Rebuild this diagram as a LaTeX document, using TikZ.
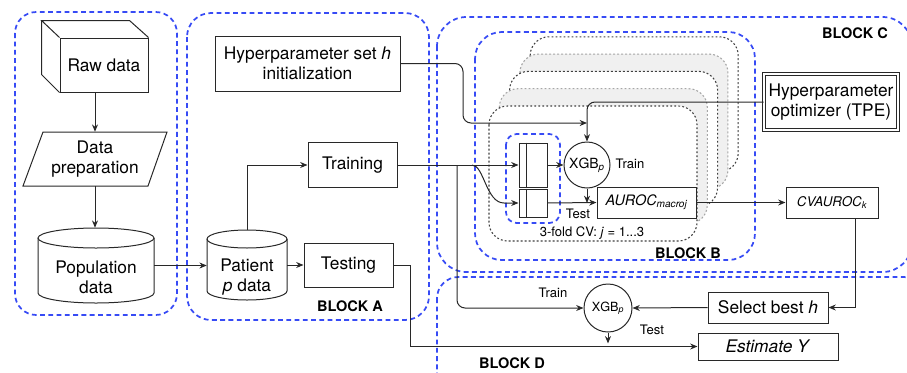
\documentclass[tikz,border=0pt]{standalone}
\usepackage{fontspec}
\setmainfont{TeX Gyre Heros}
\usetikzlibrary{arrows.meta}
\definecolor{blueD}{RGB}{55,75,245}
\definecolor{lineC}{RGB}{40,40,40}
\definecolor{cardG}{RGB}{240,240,240}
\newcommand\fmain{\fontsize{13}{15}\selectfont}
\newcommand\fsmall{\fontsize{9.8}{11}\selectfont}
\newcommand\fblk{\fontsize{10.9}{12}\selectfont\bfseries}
\newcommand\fxb{\fontsize{10.5}{12}\selectfont}
\newcommand\fxd{\fontsize{9.5}{11}\selectfont}
\newcommand\fau{\fontsize{10.8}{12}\selectfont}
\newcommand\fcv{\fontsize{10}{12}\selectfont}
\begin{document}
\begin{tikzpicture}[x=0.75pt,y=-0.75pt,
  blk/.style={draw=blueD, line width=1.3pt, dash pattern=on 3.6pt off 2.6pt, rounded corners=#1},
  box/.style={draw=lineC, line width=0.75pt, fill=white, inner sep=1pt, align=center, font=\fmain},
  wh/.style 2 args={minimum width=#1*0.75pt, minimum height=#2*0.75pt},
  arr/.style={draw=lineC, line width=0.75pt, -{Stealth[length=5.5pt,width=4.5pt]}},
  ln/.style={draw=lineC, line width=0.75pt},
  lbl/.style={font=\fsmall, inner sep=0pt},
  blab/.style={font=\fblk, inner sep=0pt},
  txt/.style={font=\fmain, align=center, inner sep=0pt},
  cardD/.style={draw=black!75, line width=0.8pt, dash pattern=on 1.4pt off 1.6pt, rounded corners=14pt, fill=white},
  cardL/.style={draw=gray!70, line width=0.8pt, dash pattern=on 1.4pt off 1.6pt, rounded corners=14pt, fill=cardG},
  xgb/.style={circle, draw=lineC, line width=0.75pt, fill=white, inner sep=0pt},
]
\useasboundingbox (0,0) rectangle (907,372);

% ---- blocks
\draw[blk=16pt] (15,12) rectangle (177,315);
\draw[blk=18pt] (187,13) rectangle (429,320);
\draw[blk=22pt] (437,17) rectangle (912,272);
\draw[blk=20pt] (475,32) rectangle (755,260);
\draw[blk=16pt] (437,277) rectangle (925,395);

% ---- stacked CV cards
\draw[cardD] (530.2,36.8) rectangle ++(208,135);
\draw[cardL] (519.9,54.1) rectangle ++(208,135);
\draw[cardD] (509.6,71.4) rectangle ++(208,135);
\draw[cardL] (499.3,88.7) rectangle ++(208,135);
\draw[cardD] (489,106) rectangle ++(208,135);

% ---- left column
\node[box, wh={88}{54}] (rawf) at (104,65) {Raw data};
\draw[ln] (rawf.north west) -- ++(-18,-17) -- ++(88,0) -- (rawf.north east);
\draw[ln] (rawf.north west) ++(-18,-17) -- ++(0,54) -- (rawf.south west);

\node[txt, wh={100}{54}] (prep) at (95,159) {Data\\preparation};
\draw[ln] ([shift={(-52,-27)}]prep.center) -- ([shift={(72,-27)}]prep.center) -- ([shift={(53,27)}]prep.center) -- ([shift={(-72,27)}]prep.center) -- cycle;

\node[wh={116}{75}, inner sep=0pt] (popS) at (96,265.5) {};
\draw[ln, fill=white] (38,238) -- (38,293) arc[start angle=180, end angle=360, x radius=43.5pt, y radius=7.5pt] -- (154,238);
\draw[ln] (96,238) ellipse[x radius=43.5pt, y radius=7.5pt];
\node[txt] (popT) at (96,277) {Population\\data};

\draw[arr] (prep.north |- rawf.south) -- (prep.north);
\draw[arr] (prep.south) -- (prep.south |- popS.north);

% ---- block A
\node[wh={80}{70}, inner sep=0pt] (patS) at (247,265) {};
\draw[ln, fill=white] (207,239) -- (207,291) arc[start angle=180, end angle=360, x radius=30pt, y radius=6.75pt] -- (287,239);
\draw[ln] (247,239) ellipse[x radius=30pt, y radius=6.75pt];
\node[txt] (patT) at (247,277) {Patient\\\textit{p} data};

\node[box, wh={185}{55}] (hyp) at (307.5,63.5) {Hyperparameter set \textit{h}\\initialization};
\node[box, wh={89}{45}] (train) at (352.5,165) {Training};
\node[box, wh={89}{44}] (test) at (348.5,265) {Testing};

\draw[arr] (popS.east) -- (popS.east -| patS.west);
\draw[arr] (patS.north) |- (train.west);
\draw[arr] (patS.east) -- (test.west);

% ---- block B / C nodes
\node[box, wh={134}{56}, double=white, double distance=1.6pt] (tpe) at (831,102) {Hyperparameter\\optimizer (TPE)};
\node[box, wh={92}{31}, font=\fcv] (cv) at (832,202.5) {\textit{CVAUROC\textsubscript{k}}};
\node[box, wh={99}{31}, font=\fau] (auroc) at (646.5,202.5) {\textit{AUROC\textsubscript{macroj}}};
\node[xgb, minimum size=46*0.75pt, font=\fxb] (xgbB) at (587,165) {XGB\textsubscript{\textit{p}}};

\draw[blk=8pt] (506,134) rectangle (560,223);
\node[box, wh={28}{44}] (sbU) at (533,165) {};
\node[box, wh={28}{28}] (sbL) at (533,203) {};
\draw[ln] ([xshift=6pt]sbU.north west) -- ([xshift=6pt]sbU.south west);
\draw[ln] ([xshift=6pt]sbL.north west) -- ([xshift=6pt]sbL.south west);

% ---- block D nodes
\node[xgb, minimum size=48*0.75pt, font=\fxd] (xgbD) at (608,308) {XGB\textsubscript{\textit{p}}};
\node[box, wh={120}{31}] (sel) at (768,307.5) {Select best \textit{h}};
\node[box, wh={140}{27}] (est) at (768,346.5) {\textit{Estimate Y}};

% ---- connectors
\coordinate (hb) at (463,123);
\coordinate (hj) at (587,123);
\coordinate (j1) at (457,165);
\coordinate (j2) at (472,165);
\draw[arr, rounded corners=6pt] (hyp.east) -| (hb) -- (hj);
\draw[arr, rounded corners=6pt] (tpe.west) -| (xgbB.north);
\draw[arr] (train.east) -- (sbU.west);
\draw[arr] (j2) .. controls (484,165) and (486,203) .. (504,203) -- (sbL.west);
\draw[arr, rounded corners=6pt] (j1) |- (xgbD.west);
\draw[arr] (sbU.east) -- (xgbB.west);
\draw[arr] (sbL.east) -- (auroc.west);
\draw[arr] (xgbB.south) -- (xgbB.south |- sbL.east);
\draw[arr] (auroc.east) -- (cv.west);
\draw[arr] ([xshift=17.25pt]cv.south) |- (sel.east);
\draw[arr] (sel.west) -- (xgbD.east);
\draw[arr] (xgbD.south) -- ([yshift=2.3pt]xgbD.south |- est.west);
\draw[arr] (test.east) -- ++(17,0) |- (est.west);

% ---- labels
\node[lbl] (trB) at (630,164) {Train};
\node[lbl] (teB) at (578,214) {Test};
\node[lbl] (cvl) at (592,233) {3-fold CV: \textit{j} = 1...3};
\node[lbl] (trD) at (553,293) {Train};
\node[lbl] (teD) at (652,330) {Test};
\node[blab] (bA) at (350,306) {BLOCK A};
\node[blab] (bB) at (688,253) {BLOCK B};
\node[blab] (bC) at (855,33) {BLOCK C};
\node[blab] (bD) at (512,363) {BLOCK D};
\end{tikzpicture}
\end{document}
